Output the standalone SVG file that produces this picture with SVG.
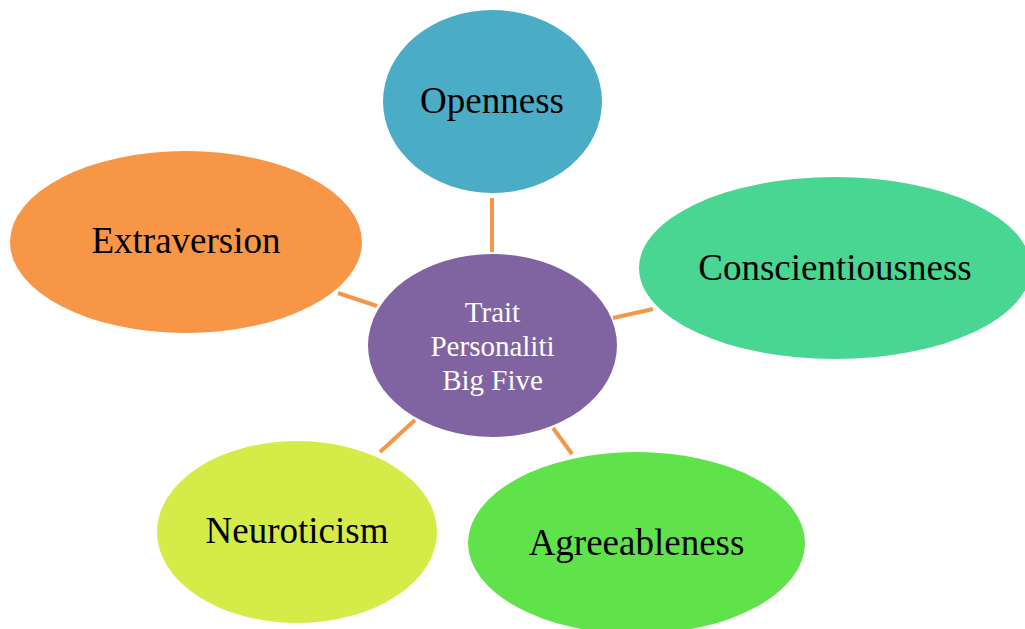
<svg xmlns="http://www.w3.org/2000/svg" width="1025" height="629" viewBox="0 0 1025 629">
<style>
.lbl{font-family:"Liberation Serif","Times New Roman",serif;font-size:37px;fill:#000;text-anchor:middle}
.ctr{font-family:"Liberation Serif","Times New Roman",serif;font-size:29px;fill:#fff;text-anchor:middle}
.conn line{stroke:#F79646;stroke-width:4;stroke-linecap:butt}
</style>
<rect width="1025" height="629" fill="#fff"/>
<g class="conn" id="connectors">
<line x1="492" y1="198" x2="492" y2="252"/>
<line x1="338" y1="293" x2="377" y2="306"/>
<line x1="613" y1="318" x2="653" y2="309"/>
<line x1="553" y1="428" x2="572" y2="454"/>
<line x1="415" y1="420" x2="380" y2="452"/>
</g>
<g id="center">
<ellipse cx="492.5" cy="345.5" rx="124.5" ry="91.5" fill="#8064A2"/>
<text class="ctr" x="492.5" y="322">Trait</text>
<text class="ctr" x="492.5" y="356">Personaliti</text>
<text class="ctr" x="492.5" y="390">Big Five</text>
</g>
<g id="openness">
<ellipse cx="492.5" cy="101.5" rx="109.5" ry="91.5" fill="#4BACC6"/>
<text class="lbl" x="492" y="113">Openness</text>
</g>
<g id="extraversion">
<ellipse cx="186" cy="242" rx="176" ry="91" fill="#F79646"/>
<text class="lbl" x="186" y="253">Extraversion</text>
</g>
<g id="conscientiousness">
<ellipse cx="835" cy="268" rx="196" ry="91" fill="#49D692"/>
<text class="lbl" x="835" y="280">Conscientiousness</text>
</g>
<g id="neuroticism">
<ellipse cx="297" cy="532" rx="140" ry="91" fill="#D4EB48"/>
<text class="lbl" x="297" y="543">Neuroticism</text>
</g>
<g id="agreeableness">
<ellipse cx="636.5" cy="543" rx="168.5" ry="91" fill="#60E24B"/>
<text class="lbl" x="636.5" y="555">Agreeableness</text>
</g>
</svg>
